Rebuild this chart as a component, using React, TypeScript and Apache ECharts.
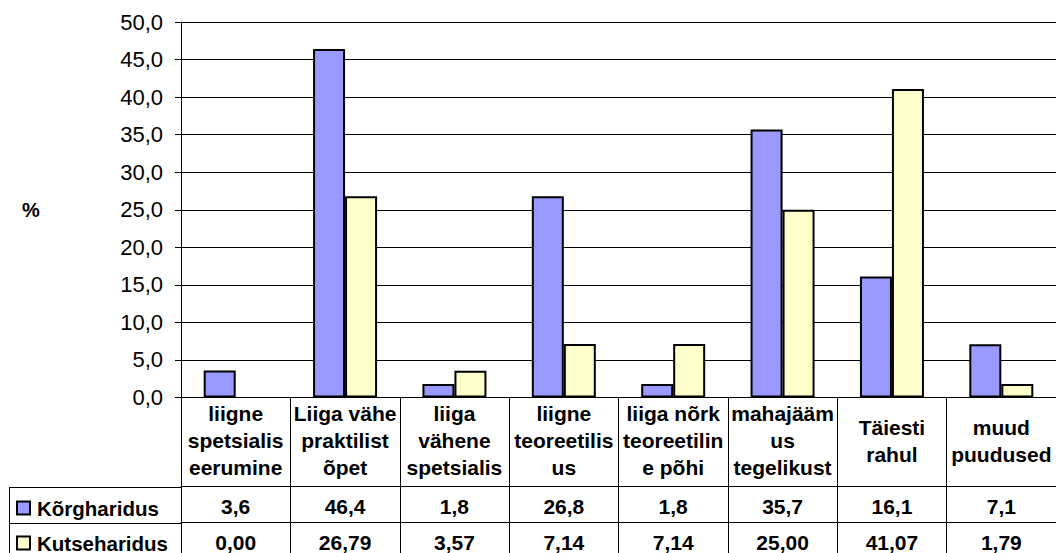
import React, { useEffect, useRef } from "react";
import * as echarts from "echarts";

const categories = [
  "liigne\nspetsialis\neerumine",
  "Liiga vähe\npraktilist\nõpet",
  "liiga\nvähene\nspetsialis",
  "liigne\nteoreetilis\nus",
  "liiga nõrk\nteoreetilin\ne põhi",
  "mahajääm\nus\ntegelikust",
  "Täiesti\nrahul",
  "muud\npuudused",
];
const seriesNames = ["Kõrgharidus", "Kutseharidus"];
const korgharidus = [3.6, 46.4, 1.8, 26.8, 1.8, 35.7, 16.1, 7.1];
const kutseharidus = [0.0, 26.79, 3.57, 7.14, 7.14, 25.0, 41.07, 1.79];
const yMin = 0;
const yMax = 50;
const yInterval = 5;
const yName = "%";

const FONT = "'Liberation Sans', Arial, sans-serif";
const fmt = (v: number, d: number) => v.toFixed(d).replace(".", ",");

export default function App() {
  const ref = useRef<HTMLDivElement>(null);
  useEffect(() => {
    if (!ref.current) return;
    const chart = echarts.init(ref.current, null, { renderer: "svg" });
    const black = { color: "#000", width: 1 };
    const tableText = { color: "#000", fontFamily: FONT, fontSize: 21, fontWeight: "bold" as const };
    const barData = (vals: number[]) =>
      vals.map((v) => (v === 0 ? { value: v, itemStyle: { borderWidth: 0, opacity: 0 } } : v));
    const legendBase = {
      orient: "horizontal",
      left: 16,
      itemWidth: 13,
      itemHeight: 13,
      icon: "rect",
      selectedMode: false,
      padding: 0,
      itemStyle: { borderColor: "#000", borderWidth: 2 },
      textStyle: { ...tableText, fontSize: 20.5, lineHeight: 22, padding: [0, 0, 0, 2] },
    };
    chart.setOption({
      animation: false,
      backgroundColor: "#fff",
      grid: { left: 181, right: -7, top: 22, bottom: 155, containLabel: false },
      legend: [
        { ...legendBase, top: 497, data: [seriesNames[0]] },
        { ...legendBase, top: 532, data: [seriesNames[1]] },
      ],
      yAxis: {
        type: "value",
        min: yMin,
        max: yMax,
        interval: yInterval,
        name: yName,
        nameLocation: "middle",
        nameRotate: 0,
        nameGap: 150,
        nameTextStyle: { color: "#000", fontFamily: FONT, fontSize: 20, fontWeight: "bold", align: "center", verticalAlign: "middle" },
        axisLine: { show: true, lineStyle: black },
        axisTick: { show: true, length: 6, lineStyle: black },
        axisLabel: { color: "#000", fontFamily: FONT, fontSize: 22, margin: 18, formatter: (v: number) => fmt(v, 1) },
        splitLine: { show: true, lineStyle: black },
      },
      xAxis: [
        {
          type: "category",
          data: categories,
          position: "bottom",
          axisLine: { show: true, lineStyle: black },
          axisTick: { show: true, interval: 0, length: 89, lineStyle: black },
          axisLabel: { ...tableText, interval: 0, margin: 43, lineHeight: 27, verticalAlign: "middle", align: "center" },
          splitLine: { show: false },
        },
        {
          type: "category",
          data: categories,
          position: "bottom",
          offset: 89,
          axisLine: { show: true, lineStyle: black },
          axisTick: { show: true, interval: 0, length: 36, lineStyle: black },
          axisLabel: { ...tableText, interval: 0, margin: 20, verticalAlign: "middle", formatter: (_v: string, i: number) => fmt(korgharidus[i], 1) },
          splitLine: { show: false },
        },
        {
          type: "category",
          data: categories,
          position: "bottom",
          offset: 125,
          axisLine: { show: true, lineStyle: black },
          axisTick: { show: true, interval: 0, length: 40, lineStyle: black },
          axisLabel: { ...tableText, interval: 0, margin: 20, verticalAlign: "middle", formatter: (_v: string, i: number) => fmt(kutseharidus[i], 2) },
          splitLine: { show: false },
        },
      ],
      series: [
        {
          name: seriesNames[0],
          type: "bar",
          xAxisIndex: 0,
          data: barData(korgharidus),
          barWidth: 32,
          barGap: "0%",
          itemStyle: { color: "#9999FF", borderColor: "#000", borderWidth: 2 },
        },
        {
          name: seriesNames[1],
          type: "bar",
          xAxisIndex: 0,
          data: barData(kutseharidus),
          barWidth: 32,
          barGap: "0%",
          itemStyle: { color: "#FFFFCC", borderColor: "#000", borderWidth: 2 },
        },
      ],
      graphic: [
        { type: "line", shape: { x1: 9, y1: 487.5, x2: 181, y2: 487.5 }, style: { stroke: "#000", lineWidth: 1 } },
        { type: "line", shape: { x1: 9, y1: 523.5, x2: 181, y2: 523.5 }, style: { stroke: "#000", lineWidth: 1 } },
        { type: "line", shape: { x1: 9.5, y1: 487, x2: 9.5, y2: 553 }, style: { stroke: "#000", lineWidth: 1 } },
      ],
    });
    return () => chart.dispose();
  }, []);
  return <div ref={ref} style={{ position: "absolute", left: 0, top: 0, width: 1056, height: 553 }} />;
}
